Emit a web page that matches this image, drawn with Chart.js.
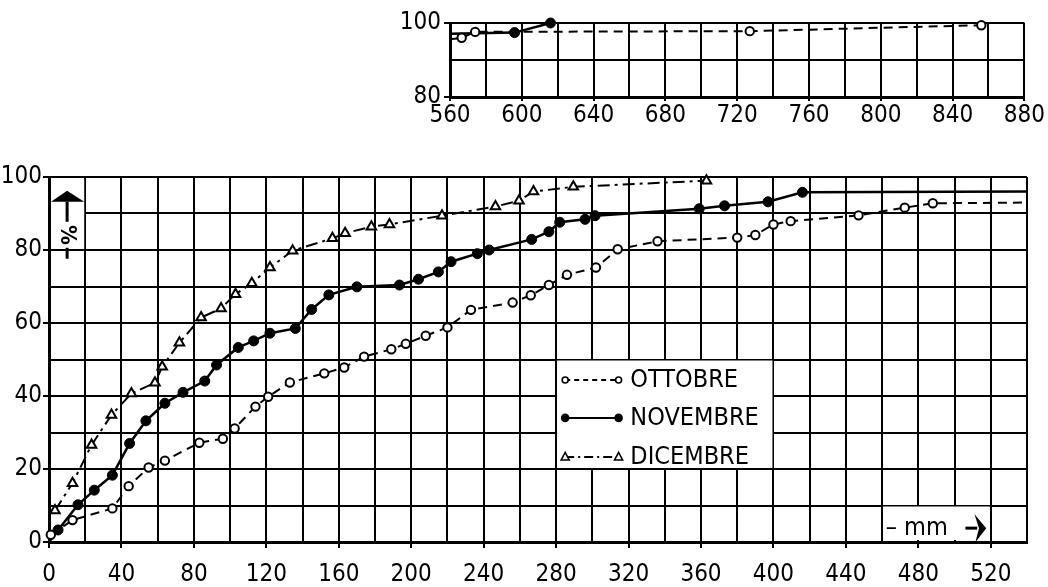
<!DOCTYPE html>
<html>
<head>
<meta charset="utf-8">
<script src="https://cdn.jsdelivr.net/npm/chart.js@4/dist/chart.umd.min.js"></script>
<style>
  body { margin: 0; background: #fff; }
  #top { position: absolute; left: 370px; top: 0; }
  #main { position: absolute; left: 0; top: 160px; }
</style>
</head>
<body>
<canvas id="top" width="678" height="130"></canvas>
<canvas id="main" width="1048" height="427"></canvas>
<script>
// values (mm, cumulative %)
const ottobreMm = [1, 13, 35, 44, 55, 64, 83, 96, 102.5, 114, 121, 133, 152, 163, 174, 189, 197, 208, 220, 233, 256, 266, 276, 286, 302, 314, 336, 380, 390, 400, 409.5, 447, 472.5, 488, 540];
const ottobrePct = [2, 6, 9.2, 15.3, 20.4, 22.3, 27.2, 28.3, 31.1, 37.1, 39.8, 43.7, 46.2, 47.8, 50.8, 52.8, 54.3, 56.5, 58.8, 63.6, 65.6, 67.6, 70.4, 73.2, 75.2, 80.2, 82.4, 83.4, 84.1, 87.0, 87.9, 89.5, 91.6, 92.8, 93];

const novembreMm = [0, 5, 16, 25, 35, 44.5, 53.5, 64, 74, 86, 92.5, 104.5, 113, 122, 136, 145, 154.5, 170, 193.5, 204, 215, 222, 236.5, 243, 266.5, 276, 282, 296, 301.5, 359, 373, 397, 416, 540];
const novembrePct = [0, 3.3, 10.2, 14.2, 18.3, 27, 33.2, 38, 41, 44.1, 48.5, 53.3, 55.1, 57.2, 58.5, 63.7, 67.7, 69.9, 70.4, 72, 74, 76.8, 79, 80, 82.9, 85, 87.6, 88.4, 89.4, 91.3, 92.1, 93.2, 95.8, 96];

const dicembreMm = [3.3, 13, 23.5, 34.5, 45.5, 58.5, 62.5, 72, 84, 95, 103, 112, 122, 134.5, 156.5, 163.5, 178, 188, 217, 246.5, 259.5, 267.5, 289.5, 363];
const dicembrePct = [8.6, 16.1, 26.6, 34.8, 40.7, 43.6, 48, 54.6, 61.5, 64, 67.9, 70.9, 75.2, 79.8, 83.2, 84.6, 86.4, 87, 89.4, 91.9, 93.5, 96, 97.3, 99];

// upper panel (560-880 mm)
const ottobreTopMm = [560, 566.5, 574, 727, 856];
const ottobreTopPct = [95.6, 96.0, 97.6, 97.8, 99.4];
const novembreTopMm = [560, 596, 616];
const novembreTopPct = [97.1, 97.4, 100];

const labels = ['OTTOBRE', 'NOVEMBRE', 'DICEMBRE'];

const FONT = "'DejaVu Sans Condensed', 'Liberation Sans Narrow', sans-serif";
Chart.defaults.font.family = FONT;
Chart.defaults.font.size = 24;
Chart.defaults.color = '#000';

const pts = (xs, ys) => xs.map((x, i) => ({ x: x, y: ys[i] }));
const hideIdx = (idx, r) => c => (idx.includes(c.dataIndex) ? 0 : r);

const styles = {
  ott: { borderColor: '#000', borderWidth: 2, borderDash: [9, 6], pointStyle: 'circle', pointRadius: 4.2, pointBackgroundColor: '#fff', pointBorderColor: '#000', pointBorderWidth: 2 },
  nov: { borderColor: '#000', borderWidth: 2.5, pointStyle: 'circle', pointRadius: 5, pointBackgroundColor: '#000', pointBorderColor: '#000', pointBorderWidth: 1 },
  dic: { borderColor: '#000', borderWidth: 2, borderDash: [12, 5, 3, 5], pointStyle: 'triangle', pointRadius: 5.5, pointBackgroundColor: '#fff', pointBorderColor: '#000', pointBorderWidth: 2 }
};

function ds(label, xs, ys, st, hidden) {
  return Object.assign({}, st, {
    label: label,
    data: pts(xs, ys),
    tension: 0,
    clip: false,
    pointRadius: hideIdx(hidden, st.pointRadius)
  });
}

function gridOpts(labelEvery) {
  return {
    color: '#000',
    lineWidth: 2,
    tickLength: 6,
    tickColor: c => (c.tick && c.tick.value % labelEvery === 0 ? '#000' : 'rgba(0,0,0,0)'),
    tickWidth: 2
  };
}

// white patches drawn under the lines
const patches = {
  id: 'patches',
  beforeDatasetsDraw(chart) {
    const px = v => chart.scales.x.getPixelForValue(v);
    const py = v => chart.scales.y.getPixelForValue(v);
    const c = chart.ctx;
    c.save();
    c.fillStyle = '#fff';
    c.fillRect(px(0) + 2, py(100) + 2, px(20) - px(0) - 3, py(80) - py(100) - 3);
    c.fillRect(px(280) + 1, py(50) + 1, px(400) - px(280) - 2, py(20) - py(50) - 2);
    c.fillRect(px(460) + 1, py(10) + 1, px(520) - px(460) - 2, py(0) - py(10) - 3);
    c.restore();
  },
  afterDraw(chart) {
    const px = v => chart.scales.x.getPixelForValue(v);
    const py = v => chart.scales.y.getPixelForValue(v);
    const c = chart.ctx;
    c.save();
    c.fillStyle = '#000';
    c.strokeStyle = '#000';

    // arrow + % in the top-left cell
    const ax = px(10);
    const by = py(93.2);
    c.beginPath();
    c.moveTo(px(0) + 2, by);
    c.lineTo(px(20) - 1, by);
    c.lineTo(ax, by - 11);
    c.closePath();
    c.fill();
    c.lineWidth = 3;
    c.beginPath();
    c.moveTo(ax, by);
    c.lineTo(ax, by + 20);
    c.moveTo(ax, by + 46);
    c.lineTo(ax, by + 57);
    c.stroke();
    c.save();
    c.translate(ax, by + 33);
    c.rotate(Math.PI / 2);
    c.font = 'bold 22px ' + FONT;
    c.textAlign = 'center';
    c.textBaseline = 'middle';
    c.fillText('%', 0, 0);
    c.restore();

    // legend
    const rows = [44.4, 34, 23.3];
    const keys = ['ott', 'nov', 'dic'];
    const x0 = px(285), x1 = px(314.5), tx = px(321);
    c.font = '25px ' + FONT;
    c.textAlign = 'left';
    c.textBaseline = 'middle';
    rows.forEach((r, i) => {
      const st = styles[keys[i]];
      const y = py(r);
      c.save();
      c.lineWidth = 2;
      c.setLineDash(keys[i] === 'ott' ? [5, 4] : keys[i] === 'dic' ? [9, 4, 2, 4] : []);
      c.beginPath();
      c.moveTo(x0, y);
      c.lineTo(x1, y);
      c.stroke();
      c.restore();
      [x0, x1].forEach(x => {
        c.save();
        c.lineWidth = 1.6;
        c.beginPath();
        if (keys[i] === 'dic') {
          c.moveTo(x, y - 4.5);
          c.lineTo(x + 4, y + 3);
          c.lineTo(x - 4, y + 3);
          c.closePath();
          c.fillStyle = '#fff';
          c.fill();
          c.stroke();
        } else {
          c.arc(x, y, keys[i] === 'nov' ? 3.5 : 3, 0, Math.PI * 2);
          c.fillStyle = st.pointBackgroundColor;
          c.fill();
          c.stroke();
        }
        c.restore();
      });
      c.fillStyle = '#000';
      c.fillText(labels[i], tx, y + 1);
    });

    // "- mm ->" label
    const my = py(3.8);
    c.fillStyle = '#000';
    c.font = '25px ' + FONT;
    c.textBaseline = 'middle';
    c.fillText('\u2013 mm', px(462), my);
    c.lineWidth = 3;
    c.beginPath();
    c.moveTo(px(506), my);
    c.lineTo(px(512.5), my);
    c.stroke();
    c.beginPath();
    c.moveTo(px(511), my - 14);
    c.lineTo(px(517.5), my);
    c.lineTo(px(511.5), my + 14);
    c.lineTo(px(513.5), my);
    c.closePath();
    c.fill();
    c.restore();
  }
};

new Chart(document.getElementById('main'), {
  type: 'line',
  data: {
    datasets: [
      ds(labels[0], ottobreMm, ottobrePct, styles.ott, [ottobreMm.length - 1]),
      ds(labels[1], novembreMm, novembrePct, styles.nov, [0, novembreMm.length - 1]),
      ds(labels[2], dicembreMm, dicembrePct, styles.dic, [])
    ]
  },
  options: {
    responsive: false,
    animation: false,
    layout: { padding: { top: 17, right: 21, left: 0, bottom: 0 } },
    plugins: { legend: { display: false }, tooltip: { enabled: false } },
    scales: {
      x: {
        type: 'linear', min: 0, max: 540,
        afterFit: s => { s.height = 45; },
        ticks: { stepSize: 20, padding: 12, maxRotation: 0, autoSkip: false, callback: v => (v % 40 === 0 && v <= 520 ? v : '') },
        grid: gridOpts(40),
        border: { display: true, color: '#000', width: 3 }
      },
      y: {
        min: 0, max: 100,
        afterFit: s => { s.width = 49; },
        ticks: { stepSize: 10, padding: 1, callback: v => (v % 20 === 0 ? v : '') },
        grid: gridOpts(20),
        border: { display: true, color: '#000', width: 3 }
      }
    }
  },
  plugins: [patches]
});

new Chart(document.getElementById('top'), {
  type: 'line',
  data: {
    datasets: [
      ds(labels[0], ottobreTopMm, ottobreTopPct, styles.ott, [0]),
      ds(labels[1], novembreTopMm, novembreTopPct, styles.nov, [0])
    ]
  },
  options: {
    responsive: false,
    animation: false,
    layout: { padding: { top: 23, right: 20, left: 0, bottom: 0 } },
    plugins: { legend: { display: false }, tooltip: { enabled: false } },
    scales: {
      x: {
        type: 'linear', min: 560, max: 880,
        afterFit: s => { s.height = 33; },
        ticks: { stepSize: 20, padding: 3, maxRotation: 0, autoSkip: false, font: { lineHeight: 1 }, callback: v => (v % 40 === 0 ? v : '') },
        grid: Object.assign(gridOpts(40), { tickLength: 4 }),
        border: { display: true, color: '#000', width: 3 }
      },
      y: {
        min: 80, max: 100,
        afterFit: s => { s.width = 80; },
        ticks: { stepSize: 10, padding: 3, callback: v => (v % 20 === 0 ? v : '') },
        grid: gridOpts(20),
        border: { display: true, color: '#000', width: 3 }
      }
    }
  }
});
</script>
</body>
</html>
